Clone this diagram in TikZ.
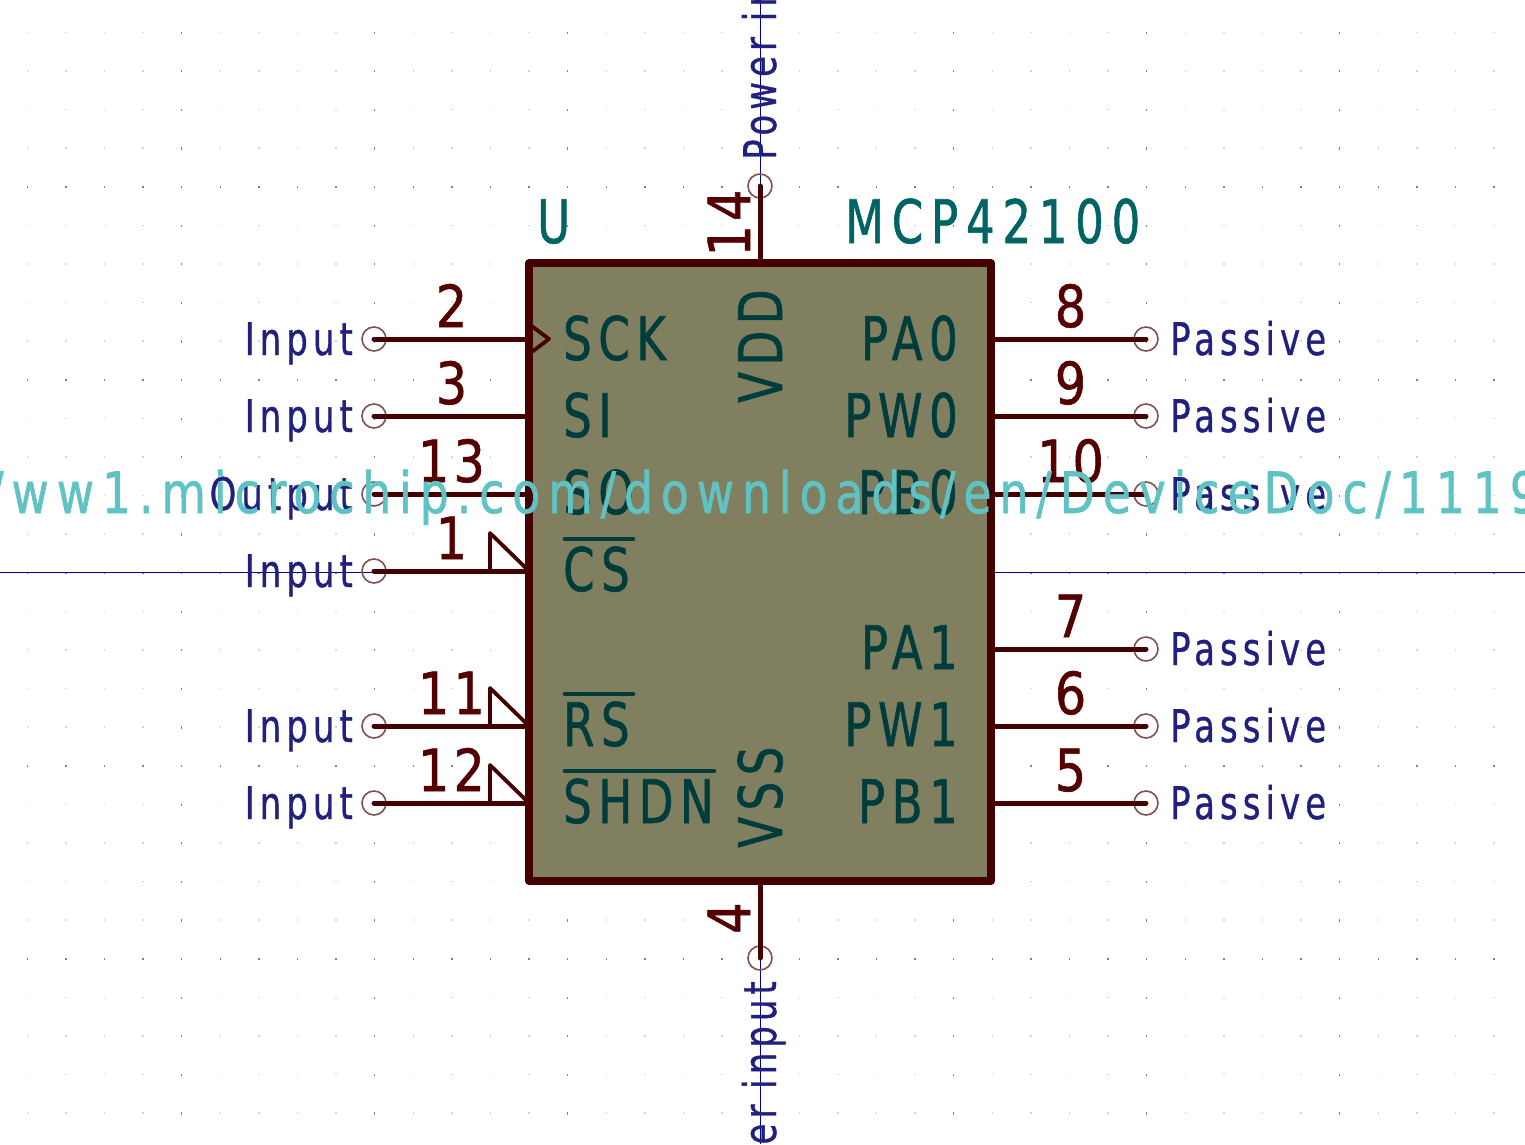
\documentclass[tikz,border=0pt]{standalone}
\usepackage{fontspec}
\newfontfamily\namefont[FakeStretch=0.75,LetterSpace=11,FakeBold=1]{DejaVu Sans}
\newfontfamily\fieldfont[FakeStretch=0.75,LetterSpace=13,FakeBold=1]{DejaVu Sans}
\newfontfamily\numfont[FakeStretch=0.85,LetterSpace=7,FakeBold=1]{DejaVu Sans}
\newfontfamily\typefont[FakeStretch=0.75,LetterSpace=11.5,FakeBold=0.8]{DejaVu Sans}
\newfontfamily\urlfont[FakeStretch=0.8,LetterSpace=14,FakeBold=1]{DejaVu Sans}
\definecolor{bodyfill}{HTML}{808060}
\definecolor{bodyline}{HTML}{450000}
\definecolor{pinline}{HTML}{450000}
\definecolor{pinnum}{HTML}{550000}
\definecolor{pinname}{HTML}{003C3C}
\definecolor{fieldtext}{HTML}{006464}
\definecolor{typetext}{HTML}{20207F}
\definecolor{endring}{HTML}{84504F}
\definecolor{axisline}{HTML}{00009C}
\definecolor{urltext}{HTML}{60C3C3}
\definecolor{griddot}{HTML}{D4D4D4}
\definecolor{gridmajor}{HTML}{808080}
\tikzstyle{chipbody} = [rectangle, draw=bodyline, fill=bodyfill, line width=8pt, line join=round, minimum width=462pt, minimum height=618pt, inner sep=0pt, outer sep=0pt]
\tikzstyle{pinend} = [circle, draw=endring, line width=1.6pt, minimum size=24pt, inner sep=0pt]
\tikzstyle{wire} = [draw=pinline, line width=5pt, line cap=round]
\tikzstyle{pinmark} = [draw=pinline, line width=3.8pt, line join=round, line cap=round]
\tikzstyle{overbar} = [draw=pinname, line width=4.6pt, line cap=round]
\tikzstyle{axisrule} = [draw=axisline, line width=1.1pt]
\tikzstyle{numlabel} = [inner sep=0pt, text=pinnum, font=\numfont\fontsize{58}{58}\selectfont]
\tikzstyle{namelabel} = [inner sep=0pt, text=pinname, font=\namefont\fontsize{60}{60}\selectfont]
\tikzstyle{fieldlabel} = [inner sep=0pt, text=fieldtext, font=\fieldfont\fontsize{60}{60}\selectfont]
\tikzstyle{typelabel} = [inner sep=0pt, text=typetext, font=\typefont\fontsize{45}{45}\selectfont]
\tikzstyle{urllabel} = [inner sep=0pt, text=urltext, font=\urlfont\fontsize{57}{57}\selectfont]
\begin{document}
\begin{tikzpicture}[x=1pt,y=-1pt]
            \clip (0,0) rectangle (1525,1144);
            \foreach \x in {26.6,65.2,...,1500}
                \foreach \y in {31.6,70.2,...,1120}
                    \fill [griddot] (\x,\y) rectangle +(1.3,1.3);
            \foreach \x in {26.6,65.2,...,1500}
                \foreach \y in {186,379,572,765,958}
                    \fill [gridmajor] (\x,\y) rectangle +(1.4,2.2);
            \foreach \x in {181,374,567,760,953,1146,1339}
                \foreach \y in {31.6,70.2,...,1120}
                    \fill [gridmajor] (\x,\y) rectangle +(1.4,2.2);
            \coordinate (axisleft) at (0,572.5);
            \coordinate (axisright) at (1525,572.5);
            \coordinate (axistop) at (760.5,0);
            \coordinate (axisbottom) at (760.5,1144);
            \draw [axisrule] (axisleft) -- (axisright);
            \draw [axisrule] (axistop) -- (axisbottom);
            \node [pinend] at (374,339) (endsck) {};
            \node [pinend] at (374,416) (endsi) {};
            \node [pinend] at (374,494) (endso) {};
            \node [pinend] at (374,571) (endcs) {};
            \node [pinend] at (374,726) (endrs) {};
            \node [pinend] at (374,803) (endshdn) {};
            \node [pinend] at (1146,339) (endpa0) {};
            \node [pinend] at (1146,416) (endpw0) {};
            \node [pinend] at (1146,494) (endpb0) {};
            \node [pinend] at (1146,649) (endpa1) {};
            \node [pinend] at (1146,726) (endpw1) {};
            \node [pinend] at (1146,803) (endpb1) {};
            \node [pinend] at (760,186) (endvdd) {};
            \node [pinend] at (760,958) (endvss) {};
            \node [chipbody] at (760,572) (chip) {};
            \draw [wire] (endsck.center) -- (endsck.center -| chip.west);
            \draw [wire] (endsi.center) -- (endsi.center -| chip.west);
            \draw [wire] (endso.center) -- (endso.center -| chip.west);
            \draw [wire] (endcs.center) -- (endcs.center -| chip.west);
            \draw [wire] (endrs.center) -- (endrs.center -| chip.west);
            \draw [wire] (endshdn.center) -- (endshdn.center -| chip.west);
            \draw [wire] (endpa0.center) -- (endpa0.center -| chip.east);
            \draw [wire] (endpw0.center) -- (endpw0.center -| chip.east);
            \draw [wire] (endpb0.center) -- (endpb0.center -| chip.east);
            \draw [wire] (endpa1.center) -- (endpa1.center -| chip.east);
            \draw [wire] (endpw1.center) -- (endpw1.center -| chip.east);
            \draw [wire] (endpb1.center) -- (endpb1.center -| chip.east);
            \draw [wire] (endvdd.center) -- (chip.north);
            \draw [wire] (endvss.center) -- (chip.south);
            \draw [pinmark] (529,324) -- (549,339) -- (529,354);
            \draw [pinmark] (490,571) -- (490,533) -- (529,571);
            \draw [pinmark] (490,726) -- (490,688) -- (529,726);
            \draw [pinmark] (490,803) -- (490,765) -- (529,803);
            \node [numlabel, anchor=base] at (451.5,327) (numsck) {2};
            \node [numlabel, anchor=base] at (451.5,404) (numsi) {3};
            \node [numlabel, anchor=base] at (451.5,482) (numso) {13};
            \node [numlabel, anchor=base] at (451.5,559) (numcs) {1};
            \node [numlabel, anchor=base] at (451.5,714) (numrs) {11};
            \node [numlabel, anchor=base] at (451.5,791) (numshdn) {12};
            \node [numlabel, anchor=base] at (1070.5,327) (numpa0) {8};
            \node [numlabel, anchor=base] at (1070.5,404) (numpw0) {9};
            \node [numlabel, anchor=base] at (1070.5,482) (numpb0) {10};
            \node [numlabel, anchor=base] at (1070.5,637) (numpa1) {7};
            \node [numlabel, anchor=base] at (1070.5,714) (numpw1) {6};
            \node [numlabel, anchor=base] at (1070.5,791) (numpb1) {5};
            \node [numlabel, anchor=base, rotate=90] at (750,223) (numvdd) {14};
            \node [numlabel, anchor=base, rotate=90] at (750,918) (numvss) {4};
            \node [namelabel, anchor=base west] at (563,360) (namesck) {SCK};
            \node [namelabel, anchor=base west] at (563,437) (namesi) {SI};
            \node [namelabel, anchor=base west] at (563,514) (nameso) {SO};
            \node [namelabel, anchor=base west] at (563,591) (namecs) {CS};
            \node [namelabel, anchor=base west] at (563,746) (namers) {RS};
            \node [namelabel, anchor=base west] at (563,823) (nameshdn) {SHDN};
            \node [namelabel, anchor=base east] at (958,360) (namepa0) {PA0};
            \node [namelabel, anchor=base east] at (958,437) (namepw0) {PW0};
            \node [namelabel, anchor=base east] at (958,514) (namepb0) {PB0};
            \node [namelabel, anchor=base east] at (958,669) (namepa1) {PA1};
            \node [namelabel, anchor=base east] at (958,746) (namepw1) {PW1};
            \node [namelabel, anchor=base east] at (958,823) (namepb1) {PB1};
            \node [namelabel, anchor=base west, rotate=90] at (782,403) (namevdd) {VDD};
            \node [namelabel, anchor=base west, rotate=90] at (782,848) (namevss) {VSS};
            \coordinate (barcsa) at (565,539);
            \coordinate (barcsb) at (633,539);
            \coordinate (barrsa) at (565,694);
            \coordinate (barrsb) at (633,694);
            \coordinate (barshdna) at (565,771);
            \coordinate (barshdnb) at (714,771);
            \draw [overbar] (barcsa) -- (barcsb);
            \draw [overbar] (barrsa) -- (barrsb);
            \draw [overbar] (barshdna) -- (barshdnb);
            \node [fieldlabel, anchor=base west] at (537,243) (refdes) {U};
            \node [fieldlabel, anchor=base west] at (845,243) (value) {MCP42100};
            \node [typelabel, anchor=base east] at (353,355) (typesck) {Input};
            \node [typelabel, anchor=base east] at (353,432) (typesi) {Input};
            \node [typelabel, anchor=base east] at (353,510) (typeso) {Output};
            \node [typelabel, anchor=base east] at (353,587) (typecs) {Input};
            \node [typelabel, anchor=base east] at (353,742) (typers) {Input};
            \node [typelabel, anchor=base east] at (353,819) (typeshdn) {Input};
            \node [typelabel, anchor=base west] at (1170,355) (typepa0) {Passive};
            \node [typelabel, anchor=base west] at (1170,432) (typepw0) {Passive};
            \node [typelabel, anchor=base west] at (1170,510) (typepb0) {Passive};
            \node [typelabel, anchor=base west] at (1170,665) (typepa1) {Passive};
            \node [typelabel, anchor=base west] at (1170,742) (typepw1) {Passive};
            \node [typelabel, anchor=base west] at (1170,819) (typepb1) {Passive};
            \node [typelabel, anchor=base west, rotate=90] at (776,160) (typevdd) {Power input};
            \node [typelabel, anchor=base east, rotate=90] at (776,981) (typevss) {Power input};
            \node [urllabel, anchor=base west] at (-12,513) (datasheet) {/ww1.microchip.com/downloads/en/DeviceDoc/1119};
\end{tikzpicture}
\end{document}
